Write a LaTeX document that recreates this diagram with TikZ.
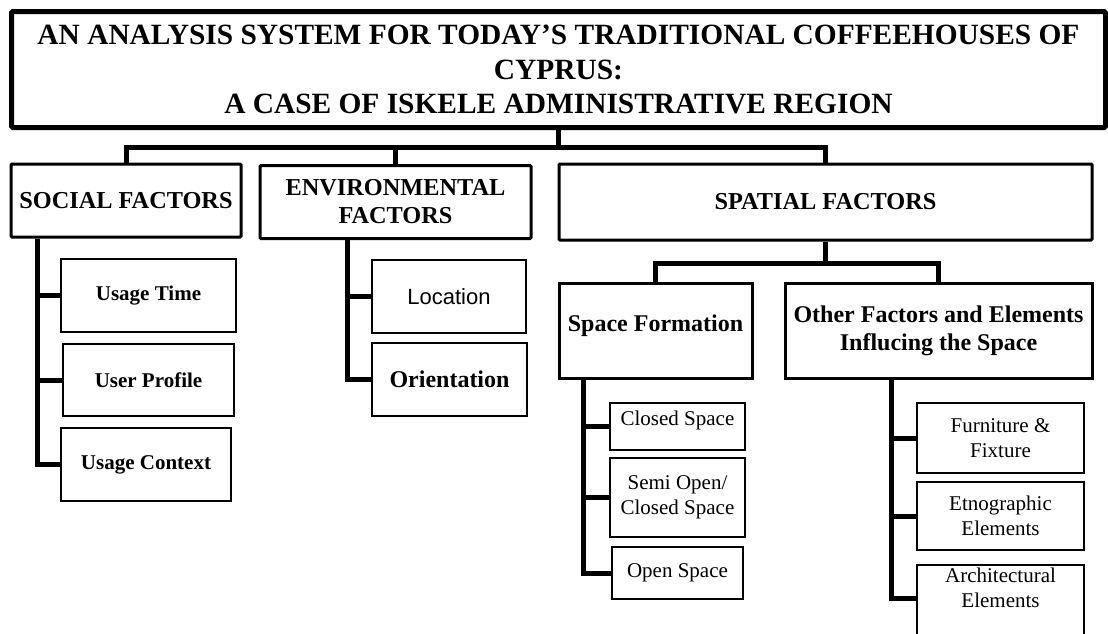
\documentclass[tikz,border=0pt]{standalone}
\usepackage{fontspec}
\setmainfont{Liberation Serif}
\newfontfamily\arialfont{Liberation Sans}

\begin{document}
\begin{tikzpicture}[x=1pt, y=-1pt,
    titlebox/.style={
        rectangle, draw, line width=5pt, rounded corners=1.5pt, align=center,
        minimum width=1094pt, minimum height=116pt,
        font=\fontsize{29.4}{34.5}\selectfont\bfseries
    },
    factor/.style={
        rectangle, draw, line width=3pt, rounded corners=1pt, align=center,
        minimum height=73pt, font=\fontsize{24.3}{28}\selectfont\bfseries
    },
    group/.style={
        rectangle, draw, line width=3pt, align=center, minimum height=95pt,
        font=\fontsize{24}{28}\selectfont\bfseries
    },
    item/.style={
        rectangle, draw, line width=2.2pt, align=center, minimum height=73pt,
        font=\fontsize{21}{25}\selectfont\bfseries
    },
    subitem/.style={
        rectangle, draw, line width=1.8pt, align=center,
        font=\fontsize{21}{25}\selectfont
    },
    link/.style={line width=5pt},
]

\useasboundingbox (0,0) rectangle (1108,633);

% title
\node[titlebox] (title) at (558.5, 69.5)
    {AN ANALYSIS SYSTEM FOR TODAY’S TRADITIONAL COFFEEHOUSES OF\\CYPRUS:\\A CASE OF ISKELE ADMINISTRATIVE REGION};

% main factors
\node[factor, minimum width=230pt] (social) at (126, 200.5) {SOCIAL FACTORS};
\node[factor, minimum width=271pt] (env) at (395.5, 202) {ENVIRONMENTAL\\FACTORS};
\node[factor, minimum width=533pt, minimum height=76pt] (spatial) at (825.5, 202) {SPATIAL FACTORS};

% social factors
\node[item, minimum width=175pt] (utime) at (148.5, 295.5) {Usage Time};
\node[item, minimum width=171pt, minimum height=72pt] (uprofile) at (148.5, 380) {User Profile};
\node[item, minimum width=170pt] (ucontext) at (146, 464.5) {Usage Context};

% environmental factors
\node[item, minimum width=154pt, font=\arialfont\fontsize{22}{26}\selectfont] (location) at (449, 296.5) {Location};
\node[item, minimum width=155pt, font=\fontsize{24}{28}\selectfont\bfseries] (orient) at (449.5, 379.5) {Orientation};

% spatial factors
\node[group, minimum width=193pt, text depth=14pt] (sform) at (655.5, 330.5) {Space Formation};
\node[group, minimum width=307pt] (others) at (938.5, 330.5) {Other Factors and Elements\\Influcing the Space};

% space formation
\node[subitem, minimum width=135pt, minimum height=47pt, text depth=17pt] (closed) at (677.5, 426.5) {Closed Space};
\node[subitem, minimum width=135pt, minimum height=79pt] (semi) at (677.5, 497.5) {Semi Open/\\Closed Space};
\node[subitem, minimum width=131pt, minimum height=52pt] (open) at (677.5, 573) {Open Space};

% other factors
\node[subitem, minimum width=167pt, minimum height=70pt] (furn) at (1000.5, 438) {Furniture \&\\Fixture};
\node[subitem, minimum width=167pt, minimum height=68pt] (etno) at (1000.5, 516) {Etnographic\\Elements};
\node[subitem, minimum width=167pt, anchor=north, text depth=50pt] (arch) at (1000.5, 564) {Architectural\\Elements};

% title to factors
\draw[link] (title.south) -- ++(0,17.5) coordinate (bus);
\draw[link] (social.north) |- (bus) -| (spatial.north);
\draw[link] (env.north) -- (env.north |- bus);

% social branches
\draw[link] ([xshift=28pt]social.south west) |- (ucontext.west);
\draw[link] ([xshift=28pt]social.south west) |- (utime.west);
\draw[link] ([xshift=28pt]social.south west) |- (uprofile.west);

% environmental branches
\draw[link] ([xshift=89pt]env.south west) |- (orient.west);
\draw[link] ([xshift=89pt]env.south west) |- (location.west);

% spatial branches
\draw[link] (spatial.south) -- ++(0,22) coordinate (sbus);
\draw[link] (sform.north) |- (sbus) -| (others.north);

\draw[link] ([xshift=26pt]sform.south west) |- (open.west);
\draw[link] ([xshift=26pt]sform.south west) |- (closed.west);
\draw[link] ([xshift=26pt]sform.south west) |- (semi.west);

\draw[link] ([xshift=108pt]others.south west) |- ([yshift=-34pt]arch.north west);
\draw[link] ([xshift=108pt]others.south west) |- (furn.west);
\draw[link] ([xshift=108pt]others.south west) |- (etno.west);

\end{tikzpicture}
\end{document}
